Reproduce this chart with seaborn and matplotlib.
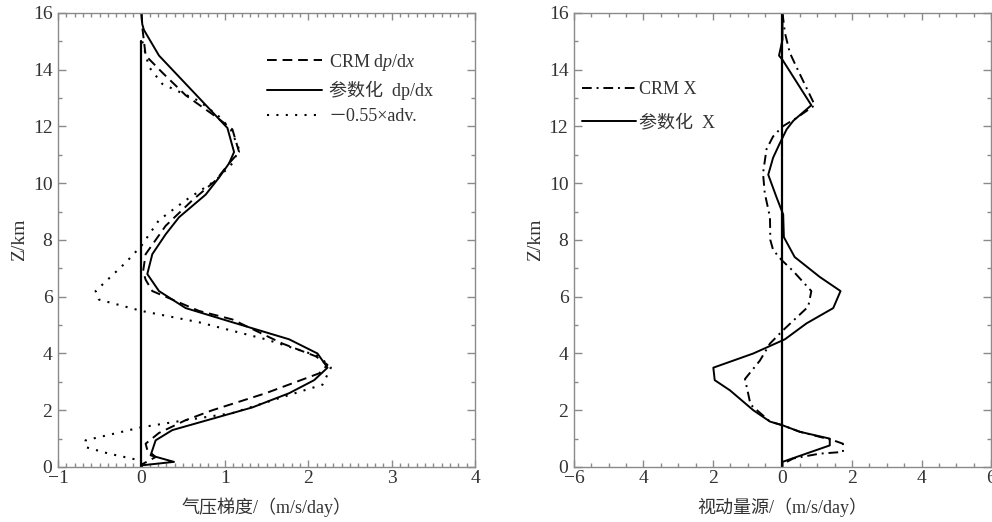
import numpy as np
import pandas as pd
import matplotlib
matplotlib.use("Agg")
import matplotlib.pyplot as plt
import seaborn as sns
from matplotlib.ticker import MultipleLocator, FixedLocator, FixedFormatter

# ---- datos panel izquierdo: gradiente de presion ----
crm_dp_z = [16, 15.5, 14.5, 13.9, 13.1, 12.35, 11.9, 11.1, 10.7, 10.1, 9.4, 8.5, 7.5, 6.9, 6.6,
            6.2, 6.0, 5.5, 5.2, 4.35, 3.9, 3.6, 3.3, 2.6, 2.0, 1.65, 1.2, 0.82, 0.6, 0.35, 0.1, 0]
crm_dp_x = [0, 0.01, 0.05, 0.25, 0.53, 0.89, 1.09, 1.17, 1.05, 0.89, 0.61, 0.29, 0.05, 0.02, 0.05,
            0.13, 0.29, 0.69, 1.09, 1.69, 2.09, 2.23, 2.13, 1.49, 0.85, 0.53, 0.21, 0.05, 0.07, 0.17, 0.01, 0]

par_dp_z = [16, 15.6, 15.4, 14.5, 11.95, 11.1, 10.7, 10.2, 9.6, 8.8, 8.2, 7.5, 6.8, 6.2, 5.6, 5.1,
            4.5, 4.0, 3.5, 3.06, 2.6, 2.1, 1.7, 1.3, 0.94, 0.41, 0.18, 0.06, 0]
par_dp_x = [0, 0.01, 0.03, 0.21, 1.03, 1.11, 1.05, 0.93, 0.77, 0.45, 0.29, 0.13, 0.07, 0.21, 0.53, 1.09,
            1.77, 2.11, 2.23, 2.07, 1.77, 1.33, 0.85, 0.37, 0.17, 0.11, 0.39, 0.01, 0]

adv_z = [15.0, 14.1, 13.5, 12.9, 12.35, 11.9, 11.2, 10.7, 10.1, 9.4, 8.7, 7.8, 7.2, 6.2, 5.9, 5.5,
         5.1, 4.5, 3.9, 3.5, 2.9, 2.5, 1.9, 1.65, 1.4, 0.94, 0.7, 0.47, 0.24]
adv_x = [0.01, 0.09, 0.25, 0.69, 0.93, 1.07, 1.17, 1.09, 0.89, 0.53, 0.21, 0.0, -0.19, -0.55, -0.51, 0.0,
         0.69, 1.49, 2.13, 2.27, 2.17, 1.73, 1.09, 0.53, 0.0, -0.67, -0.67, -0.39, -0.03]

# ---- datos panel derecho: fuente aparente de momento ----
crm_x_z = [16, 15.3, 14.6, 14.1, 12.75, 12.3, 12.0, 11.65, 11.2, 10.35, 9.65, 8.8, 8.0, 7.65, 7.3,
           6.9, 6.2, 5.65, 4.8, 4.35, 3.75, 3.1, 2.6, 2.2, 1.6, 1.47, 1.24, 0.94, 0.82, 0.53, 0.47, 0.3, 0.12]
crm_x_x = [0, 0.07, 0.21, 0.40, 0.93, 0.4, 0, -0.27, -0.46, -0.56, -0.51, -0.36, -0.35, -0.27, -0.03,
           0.31, 0.83, 0.74, 0, -0.36, -0.65, -1.08, -0.99, -0.92, -0.36, 0, 0.5, 1.46, 1.74, 1.74, 1.07, 0.31, 0.03]

par_x_z = [16, 15.06, 14.5, 14.35, 12.75, 12.2, 11.9, 11.4, 10.9, 10.3, 9.5, 8.9, 8.1, 7.4, 6.7,
           6.2, 5.6, 5.06, 4.5, 4.0, 3.5, 3.06, 2.7, 2.0, 1.6, 1.47, 1.24, 1.0, 0.76, 0.18, 0]
par_x_x = [0, 0, -0.1, 0, 0.83, 0.31, 0.12, -0.08, -0.27, -0.41, -0.17, 0.02, 0.04, 0.35, 1.07,
           1.67, 1.46, 0.69, 0.07, -0.84, -1.99, -1.95, -1.51, -0.84, -0.36, 0, 0.5, 1.36, 1.36, 0, 0]

xticks_der = [-6, -4, -2, 0, 2, 4, 6]
xlabels_der = ['\u22126', '4', '2', '0', '2', '4', '6']

etiquetas_izq = [r'$\mathsf{CRM\ d}p\mathsf{/d}x$',
                 '参数化  dp/dx',
                 '－0.55×adv.']
etiquetas_der = ['CRM X', '参数化  X']

sns.set_style("ticks")
plt.rcParams['font.family'] = ['Liberation Serif', 'Noto Sans CJK SC']
# mathtext: letras en cursiva Times, "sf" en Times recta
plt.rcParams['mathtext.fontset'] = 'custom'
plt.rcParams['mathtext.rm'] = 'Liberation Serif'
plt.rcParams['mathtext.it'] = 'Liberation Serif:italic'
plt.rcParams['mathtext.sf'] = 'Liberation Serif'
plt.rcParams['axes.unicode_minus'] = True

GRIS = '#8a8a8a'
TXT = '#333333'

fig = plt.figure(figsize=(9.92, 5.22), dpi=100)
ax1 = fig.add_axes([0.0585, 0.1054, 0.4205, 0.8697])
ax2 = fig.add_axes([0.5786, 0.1054, 0.4204, 0.8697])


def estilo(ax):
    for s in ax.spines.values():
        s.set_color(GRIS)
        s.set_linewidth(1.0)
    ax.tick_params(which='both', direction='in', top=True, right=True, color=GRIS,
                   labelcolor=TXT, labelsize=14)
    ax.tick_params(axis='y', which='major', length=6, width=1, pad=4)
    ax.tick_params(axis='y', which='minor', length=3, width=1)
    ax.tick_params(axis='x', which='major', length=5, width=1, pad=2)
    ax.tick_params(axis='x', which='minor', length=3, width=1)
    ax.set_ylim(0, 16)
    ax.yaxis.set_major_locator(MultipleLocator(2))
    ax.yaxis.set_minor_locator(MultipleLocator(1))
    ax.set_ylabel('Z/km', fontsize=14, color=TXT, labelpad=3)


# panel izquierdo
kw = dict(sort=False, estimator=None, color='black', ax=ax1)
sns.lineplot(x=crm_dp_x, y=crm_dp_z, linestyle=(0, (5, 3)), linewidth=1.4, label=etiquetas_izq[0], **kw)
sns.lineplot(x=par_dp_x, y=par_dp_z, linestyle='-', linewidth=1.4, label=etiquetas_izq[1], **kw)
sns.lineplot(x=adv_x, y=adv_z, linestyle=(0, (1, 3.5)), linewidth=1.5, label=etiquetas_izq[2], **kw)
ax1.axvline(0, ymin=0, ymax=15 / 16, color='black', linewidth=1.6)
ax1.set_xlim(-1, 4)
ax1.xaxis.set_major_locator(MultipleLocator(1))
ax1.xaxis.set_minor_locator(MultipleLocator(0.1))
ax1.set_xlabel('气压梯度/（m/s/day）', fontsize=13, color=TXT, labelpad=8)
estilo(ax1)
leg1 = ax1.legend(loc='upper left', bbox_to_anchor=(0.50, 0.915), frameon=False, fontsize=13,
                  handlelength=3.05, handletextpad=0.4, labelspacing=0.45,
                  borderaxespad=0, borderpad=0)
for t in leg1.get_texts():
    t.set_color(TXT)

# panel derecho
kw = dict(sort=False, estimator=None, color='black', ax=ax2)
sns.lineplot(x=crm_x_x, y=crm_x_z, linestyle=(0, (5, 2.5, 1, 2.5)), linewidth=1.4, label=etiquetas_der[0], **kw)
sns.lineplot(x=par_x_x, y=par_x_z, linestyle='-', linewidth=1.4, label=etiquetas_der[1], **kw)
ax2.axvline(0, color='black', linewidth=1.6)
ax2.set_xlim(-6, 6)
ax2.xaxis.set_major_locator(FixedLocator(xticks_der))
ax2.xaxis.set_major_formatter(FixedFormatter(xlabels_der))
ax2.xaxis.set_minor_locator(MultipleLocator(0.5))
ax2.set_xlabel('视动量源/（m/s/day）', fontsize=13, color=TXT, labelpad=8)
estilo(ax2)
leg2 = ax2.legend(loc='upper left', bbox_to_anchor=(0.02, 0.85), frameon=False, fontsize=13,
                  handlelength=3.0, handletextpad=0.15, labelspacing=0.9,
                  borderaxespad=0, borderpad=0)
for t in leg2.get_texts():
    t.set_color(TXT)

fig.savefig('out.png', dpi=100)
